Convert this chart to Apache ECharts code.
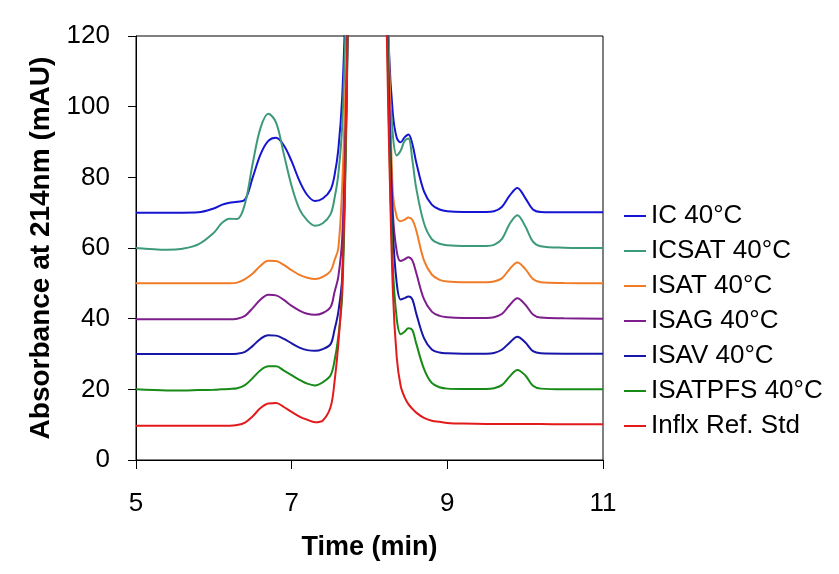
<!DOCTYPE html>
<html>
<head>
<meta charset="utf-8">
<script src="https://cdn.jsdelivr.net/npm/echarts@6/dist/echarts.min.js"></script>
<style>html,body{margin:0;padding:0;background:#fff}#c{width:839px;height:574px}</style>
</head>
<body>
<div id="c"></div>
<script>
const time = [5.0, 5.4, 5.6, 5.8, 6.0, 6.1, 6.2, 6.3, 6.4, 6.5, 6.6, 6.7, 6.8, 6.9, 7.0, 7.1, 7.2, 7.3, 7.4, 7.5, 7.55, 7.6, 7.65, 7.7, 7.75, 8.0, 8.2, 8.25, 8.3, 8.35, 8.4, 8.45, 8.5, 8.55, 8.6, 8.7, 8.8, 8.9, 9.0, 9.2, 9.5, 9.6, 9.7, 9.8, 9.9, 10.0, 10.1, 10.2, 10.5, 11.0];

const IC = [70, 70, 70, 70.1, 71.2, 72.2, 72.8, 73.1, 73.7, 80, 86.5, 90.3, 91.2, 89, 84.5, 79, 75, 73.3, 74, 76.5, 80.5, 88, 103, 135, 175, 260, 160, 116, 98, 91.2, 89.9, 91.3, 92.1, 89.5, 84.3, 76, 72.3, 70.9, 70.4, 70.2, 70.2, 70.4, 71.6, 74.8, 77, 74.2, 70.9, 70.2, 70.1, 70.1];
const ICSAT = [60, 59.5, 59.8, 61, 64.3, 67, 68.3, 68.2, 72.5, 84, 94, 98, 95.5, 86.5, 77.5, 71, 67.8, 66.3, 67, 69.6, 74, 81, 95, 128, 170, 260, 160, 110, 92, 86.2, 87.5, 90.3, 91, 85, 77, 67, 62.5, 61.2, 60.8, 60.6, 60.6, 60.9, 62.5, 66.8, 69.3, 66.2, 61.8, 60.5, 60.1, 60];
const ISAT = [50, 50, 50, 50, 50, 50, 50, 50.2, 51.2, 52.8, 55, 56.4, 56.3, 55.2, 53.7, 52.4, 51.6, 51.2, 51.8, 53.5, 56.5, 60, 78, 112, 160, 260, 150, 115, 75.5, 68.8, 67.6, 68, 68.6, 68, 65, 56.5, 52.5, 51, 50.5, 50.3, 50.3, 50.5, 51.4, 54, 55.9, 54.1, 51.2, 50.3, 50.1, 50];
const ISAG = [39.8, 39.8, 39.8, 39.8, 39.8, 39.8, 39.8, 40, 40.8, 43, 45.4, 46.8, 46.6, 45.3, 43.6, 42.3, 41.4, 41.1, 41.6, 43.3, 47.5, 52, 63, 100, 150, 260, 150, 105, 70, 59, 56.3, 56.8, 57.4, 56.5, 53, 45.5, 42, 40.8, 40.4, 40.2, 40.2, 40.4, 41.3, 43.8, 45.8, 44, 41.2, 40.3, 40.1, 40];
const ISAV = [30, 30, 30, 30, 30, 30, 30, 30.1, 30.6, 32.3, 34.3, 35.3, 35.2, 34.3, 33, 31.8, 31.1, 30.9, 31.4, 32.8, 36.8, 42, 52, 95, 150, 260, 150, 100, 65, 50, 45.4, 45.8, 46.3, 45.5, 41.5, 34.5, 31.3, 30.4, 30.2, 30.1, 30.1, 30.3, 31.2, 33.2, 34.9, 33.3, 30.8, 30.2, 30.1, 30.1];
const ISATPFS = [20, 19.7, 19.7, 19.8, 19.9, 20, 20.1, 20.3, 21.2, 23.2, 25.4, 26.5, 26.5, 25.3, 24, 22.7, 21.6, 21.1, 22, 24, 28, 35, 47, 92, 150, 260, 150, 95, 55, 40, 35.6, 36.3, 37.3, 36.8, 33, 25.8, 21.8, 20.6, 20.2, 20.1, 20.1, 20.3, 21.2, 23.6, 25.5, 24, 21, 20.2, 20, 20];
const INFLX = [9.7, 9.7, 9.7, 9.7, 9.7, 9.7, 9.7, 9.9, 10.6, 12.4, 14.7, 16, 16.1, 15, 13.6, 12.3, 11.4, 10.7, 11.2, 15, 22, 33, 50, 98, 150, 260, 140, 90, 48, 29, 21, 17.8, 15.8, 14.5, 13.4, 11.9, 11.1, 10.8, 10.5, 10.3, 10.2, 10.2, 10.2, 10.2, 10.2, 10.2, 10.2, 10.2, 10.1, 10.1];

const seriesNames = ['IC 40°C', 'ICSAT 40°C', 'ISAT 40°C', 'ISAG 40°C', 'ISAV 40°C', 'ISATPFS 40°C', 'Inflx Ref. Std'];
const seriesValues = [IC, ICSAT, ISAT, ISAG, ISAV, ISATPFS, INFLX];
const seriesColors = ['#1414d2', '#3d9a78', '#f07c28', '#7d1e8c', '#1616a8', '#178a17', '#e31a1c'];

const xTicks = [5, 7, 9, 11];
const yTicks = [0, 20, 40, 60, 80, 100, 120];

const FONT = "'Liberation Sans', Arial, sans-serif";
const chart = echarts.init(document.getElementById('c'), null, {renderer: 'canvas'});
chart.setOption({
  animation: false,
  backgroundColor: '#fff',
  grid: {left: 136, top: 36, right: 236, bottom: 114, show: true, borderColor: '#000', borderWidth: 1, containLabel: false},
  legend: {
    orient: 'vertical', left: 619, top: 198, itemWidth: 22, itemHeight: 2, itemGap: 9, icon: 'rect',
    data: seriesNames,
    textStyle: {fontFamily: FONT, fontSize: 26, color: '#000'}
  },
  xAxis: {
    type: 'value', min: xTicks[0], max: xTicks[xTicks.length - 1], interval: 2,
    name: 'Time (min)', nameLocation: 'middle', nameGap: 74,
    nameTextStyle: {fontFamily: FONT, fontSize: 27, fontWeight: 'bold', color: '#000'},
    axisLine: {show: true, lineStyle: {color: '#000', width: 1}},
    axisTick: {show: true, inside: false, length: 9, lineStyle: {color: '#000'}},
    axisLabel: {fontFamily: FONT, fontSize: 26, color: '#000', margin: 31},
    splitLine: {show: false}
  },
  yAxis: {
    type: 'value', min: yTicks[0], max: yTicks[yTicks.length - 1], interval: 20,
    name: 'Absorbance at 214nm (mAU)', nameLocation: 'middle', nameGap: 80, nameRotate: 90,
    nameTextStyle: {fontFamily: FONT, fontSize: 28, fontWeight: 'bold', color: '#000'},
    axisLine: {show: true, lineStyle: {color: '#000', width: 1}},
    axisTick: {show: true, inside: false, length: 8, lineStyle: {color: '#000'}},
    axisLabel: {fontFamily: FONT, fontSize: 26, color: '#000', margin: 26},
    splitLine: {show: false}
  },
  series: seriesNames.map((name, k) => ({
    name: name,
    type: 'line',
    data: time.map((t, i) => [t, seriesValues[k][i]]),
    smooth: 0.35,
    symbol: 'none',
    clip: true,
    color: seriesColors[k],
    lineStyle: {width: 2, color: seriesColors[k]}
  }))
});
</script>
</body>
</html>
